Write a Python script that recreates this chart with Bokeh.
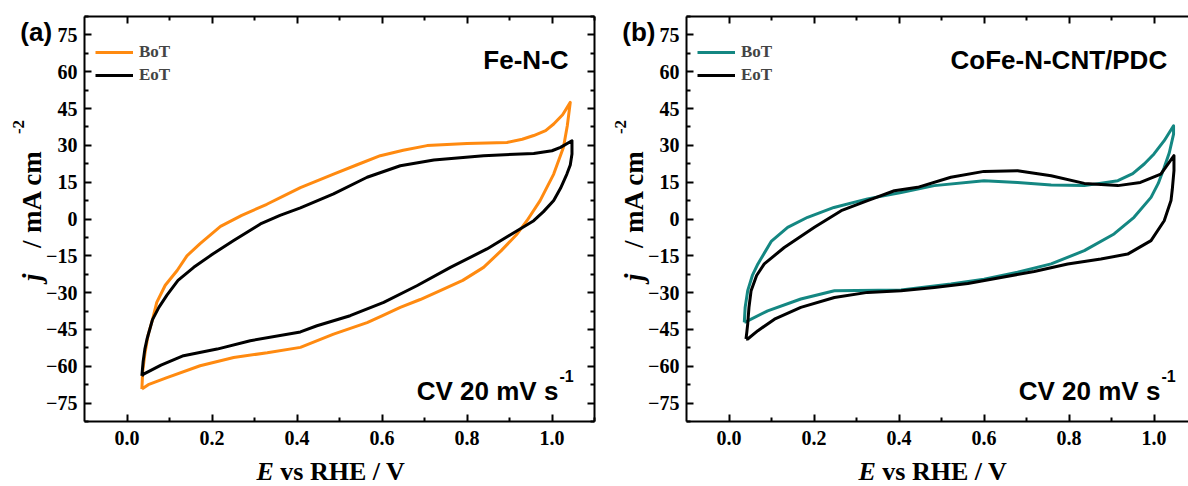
import math
from bokeh.plotting import figure
from bokeh.models import (LinearAxis, FixedTicker, Label, Legend, LegendItem, Range1d,
                          PrintfTickFormatter)
from bokeh.layouts import row
from bokeh.embed import file_html
from bokeh.resources import INLINE

# ---------------- data ----------------
# Panel (a) Fe-N-C : anodic branch then cathodic branch
a_bot_E = [0.035, 0.037, 0.042, 0.050, 0.060, 0.070, 0.090, 0.118, 0.141, 0.172, 0.220, 0.270,
           0.329, 0.370, 0.408, 0.486, 0.540, 0.596, 0.650, 0.706, 0.800, 0.894, 0.930, 0.957,
           0.985, 1.004, 1.025, 1.043,
           1.036, 1.027, 1.004, 0.972, 0.941, 0.918, 0.880, 0.839, 0.790, 0.737, 0.690, 0.643,
           0.600, 0.565, 0.486, 0.408, 0.330, 0.251, 0.172, 0.094, 0.050, 0.035]
a_bot_j = [-69.3, -62.0, -55.0, -47.0, -41.0, -34.0, -27.0, -21.0, -15.0, -10.0, -3.0, 1.5,
           6.0, 9.5, 12.8, 18.3, 22.0, 25.8, 28.0, 29.9, 30.8, 31.2, 32.5, 34.0,
           36.0, 38.7, 42.5, 47.5,
           38.0, 29.2, 18.3, 7.5, -0.7, -6.1, -13.0, -19.7, -25.0, -29.2, -32.8, -36.0,
           -39.5, -42.2, -46.9, -52.3, -54.5, -56.4, -59.8, -64.6, -67.5, -69.3]

a_eot_E = [0.035, 0.038, 0.042, 0.047, 0.060, 0.075, 0.094, 0.120, 0.157, 0.200, 0.251, 0.314,
           0.360, 0.408, 0.486, 0.565, 0.643, 0.722, 0.839, 0.957, 1.000, 1.020, 1.047,
           1.047, 1.043, 1.035, 1.020, 1.004, 0.980, 0.957, 0.918, 0.847, 0.761, 0.682, 0.604,
           0.525, 0.447, 0.408, 0.290, 0.212, 0.133, 0.080, 0.039, 0.035]
a_eot_j = [-63.9, -58.0, -53.0, -49.0, -41.0, -36.0, -31.0, -25.0, -19.7, -14.5, -8.8, -2.0,
           1.5, 4.5, 10.2, 17.0, 21.7, 24.0, 25.8, 26.7, 27.8, 29.2, 31.9,
           26.5, 22.0, 18.3, 12.5, 7.5, 3.0, -0.7, -4.8, -12.2, -19.7, -27.2, -34.0,
           -39.4, -43.5, -46.0, -49.6, -53.0, -55.7, -59.5, -63.2, -63.9]

# Panel (b) CoFe-N-CNT/PDC
b_bot_E = [0.036, 0.038, 0.044, 0.055, 0.068, 0.100, 0.138, 0.185, 0.247, 0.326, 0.405, 0.483,
           0.600, 0.679, 0.758, 0.836, 0.915, 0.950, 0.977, 1.000, 1.024, 1.046,
           1.046, 1.036, 1.024, 1.010, 0.993, 0.953, 0.906, 0.836, 0.758, 0.679, 0.600, 0.522,
           0.444, 0.405, 0.248, 0.169, 0.091, 0.044, 0.036]
b_bot_j = [-42.1, -36.0, -29.2, -23.0, -18.3, -9.0, -3.4, 0.7, 4.7, 8.2, 10.8, 13.6,
           15.6, 14.9, 13.9, 13.6, 15.6, 18.5, 22.4, 26.5, 31.9, 38.0,
           34.6, 27.0, 21.0, 14.5, 8.8, 0.7, -6.1, -12.9, -18.3, -21.7, -24.5, -26.5,
           -28.1, -28.9, -29.2, -32.6, -37.4, -41.5, -42.1]

b_eot_E = [0.040, 0.042, 0.044, 0.047, 0.052, 0.065, 0.083, 0.130, 0.201, 0.264, 0.326, 0.389,
           0.444, 0.522, 0.600, 0.679, 0.758, 0.836, 0.915, 0.968, 1.016, 1.047,
           1.047, 1.043, 1.040, 1.024, 0.993, 0.938, 0.875, 0.797, 0.718, 0.640, 0.562, 0.483,
           0.405, 0.326, 0.248, 0.169, 0.107, 0.068, 0.044, 0.040]
b_eot_j = [-48.9, -46.0, -42.8, -36.0, -29.2, -23.0, -18.3, -11.6, -3.4, 3.4, 7.5, 11.5,
           12.9, 17.0, 19.4, 19.7, 17.6, 14.5, 13.6, 14.9, 18.3, 25.8,
           19.7, 12.0, 7.5, -0.7, -8.8, -14.3, -16.3, -18.3, -21.4, -23.8, -26.3, -27.9,
           -29.2, -29.9, -32.0, -36.0, -40.8, -45.5, -48.9, -48.9]

x_major = [0.0, 0.2, 0.4, 0.6, 0.8, 1.0]
x_minor = [0.1, 0.3, 0.5, 0.7, 0.9, 1.1]
y_major = [-75, -60, -45, -30, -15, 0, 15, 30, 45, 60, 75]
y_minor = [-82.5, -67.5, -52.5, -37.5, -22.5, -7.5, 7.5, 22.5, 37.5, 52.5, 67.5, 82.5]

series_names = ["BoT", "EoT"]
panel_titles = ["Fe-N-C", "CoFe-N-CNT/PDC"]
panel_letters = ["(a)", "(b)"]
colors_a = ["#FF8A10", "#000000"]
colors_b = ["#148782", "#000000"]

SERIF = "Liberation Serif"
SANS = "Liberation Sans"

XMIN, XMAX = -0.1, 1.1
YMIN, YMAX = -82.5, 82.5
PX_X = 425.0          # pixels per volt
PX_Y = 405.0 / 165.0  # pixels per mA cm-2
BOX_LEFT, BOX_TOP, BOX_BOTTOM = 84, 16, 421


def make_axis(dim, loc, show_labels):
    ticker = FixedTicker(ticks=x_major if dim == "x" else y_major,
                         minor_ticks=x_minor if dim == "x" else y_minor)
    ax = LinearAxis(ticker=ticker, fixed_location=loc,
                    bounds=(XMIN, XMAX) if dim == "x" else (YMIN, YMAX))
    if dim == "x":
        ax.formatter = PrintfTickFormatter(format="%.1f")
    ax.axis_line_width = 2
    ax.axis_line_color = "black"
    ax.major_tick_in = 7
    ax.major_tick_out = 0
    ax.minor_tick_in = 4
    ax.minor_tick_out = 0
    ax.major_tick_line_width = 2
    ax.minor_tick_line_width = 2
    ax.major_label_text_font = SERIF
    ax.major_label_text_font_style = "bold"
    ax.major_label_text_font_size = "20px"
    ax.major_label_text_color = "black" if show_labels else None
    ax.major_label_standoff = 9 if dim == "x" else 7
    return ax


def make_panel(idx, curves, colors, width, title_x, right_axis):
    # the frame fills the whole canvas; the boxed axes sit at fixed data locations
    x_start = XMIN - BOX_LEFT / PX_X
    x_end = x_start + width / PX_X
    y_end = YMAX + BOX_TOP / PX_Y
    y_start = YMIN - (486 - BOX_BOTTOM) / PX_Y
    p = figure(width=width, height=486, output_backend="svg", toolbar_location=None,
               x_range=Range1d(x_start, x_end), y_range=Range1d(y_start, y_end),
               x_axis_location=None, y_axis_location=None,
               min_border=0, min_border_left=0, min_border_right=0,
               min_border_top=0, min_border_bottom=0)
    p.outline_line_color = None
    p.background_fill_color = "white"
    p.border_fill_color = "white"
    p.grid.visible = False

    p.add_layout(make_axis("x", YMIN, True), "below")
    p.add_layout(make_axis("y", XMIN, True), "left")
    p.add_layout(make_axis("x", YMAX, False), "above")
    if right_axis:
        p.add_layout(make_axis("y", XMAX, False), "right")

    items = []
    for (E, J), col, name in zip(curves, colors, series_names):
        r = p.line(E, J, line_color=col, line_width=3, line_join="round")
        items.append(LegendItem(label=name, renderers=[r]))

    leg = Legend(items=items, location=(95, 401), margin=0, padding=5, spacing=3,
                 glyph_width=38, glyph_height=20, label_height=20, label_standoff=6,
                 label_text_font=SERIF, label_text_font_style="bold",
                 label_text_font_size="17px", border_line_color=None,
                 background_fill_alpha=0)
    p.add_layout(leg)

    # sample annotation
    p.add_layout(Label(x=title_x, y=64.6, text=panel_titles[idx], text_font=SANS,
                       text_font_style="bold", text_font_size="26px", text_align="right",
                       text_baseline="alphabetic", text_color="black"))
    p.add_layout(Label(x=1.015, y=-69.9, text="CV 20 mV s", text_font=SANS,
                       text_font_style="bold", text_font_size="26px", text_align="right",
                       text_baseline="alphabetic", text_color="black"))
    p.add_layout(Label(x=1.015, y=-64.0, x_offset=1, text="-1", text_font=SANS,
                       text_font_style="bold", text_font_size="16px", text_align="left",
                       text_baseline="alphabetic", text_color="black"))
    # panel letter
    p.add_layout(Label(x=-0.251, y=76.3, text=panel_letters[idx], text_font=SANS,
                       text_font_style="bold", text_font_size="26px", text_align="left",
                       text_baseline="middle", text_color="black"))
    # x axis label
    p.add_layout(Label(x=0.3454, y=-102.9, text="E", text_font=SERIF,
                       text_font_style="bold italic", text_font_size="26px", text_align="right",
                       text_baseline="alphabetic", text_color="black"))
    p.add_layout(Label(x=0.3454, y=-102.9, x_offset=6.5, text="vs RHE / V", text_font=SERIF,
                       text_font_style="bold", text_font_size="26px", text_align="left",
                       text_baseline="alphabetic", text_color="black"))
    # y axis label (rotated, reading upwards)
    ang = math.pi / 2
    ylx, yly = -0.2245, -25.3
    p.add_layout(Label(x=ylx, y=yly, text="j", text_font=SERIF, angle=ang,
                       text_font_style="bold italic", text_font_size="27px", text_align="left",
                       text_baseline="alphabetic", text_color="black"))
    p.add_layout(Label(x=ylx, y=yly, y_offset=33, text="/", text_font=SERIF, angle=ang,
                       text_font_style="bold", text_font_size="27px", text_align="left",
                       text_baseline="alphabetic", text_color="black"))
    p.add_layout(Label(x=ylx, y=yly, y_offset=48, text="mA cm", text_font=SERIF, angle=ang,
                       text_font_style="bold", text_font_size="27px", text_align="left",
                       text_baseline="alphabetic", text_color="black"))
    p.add_layout(Label(x=ylx, y=yly, x_offset=-13, y_offset=147, text="-2", text_font=SERIF,
                       angle=ang, text_font_style="bold", text_font_size="17px",
                       text_align="left", text_baseline="alphabetic", text_color="black"))
    return p


pa = make_panel(0, [(a_bot_E, a_bot_j), (a_eot_E, a_eot_j)], colors_a, 602, 1.039, True)
pb = make_panel(1, [(b_bot_E, b_bot_j), (b_eot_E, b_eot_j)], colors_b, 586, 1.031, False)

layout = row(pa, pb, spacing=0)
open("out.html", "w").write(file_html(layout, INLINE))
